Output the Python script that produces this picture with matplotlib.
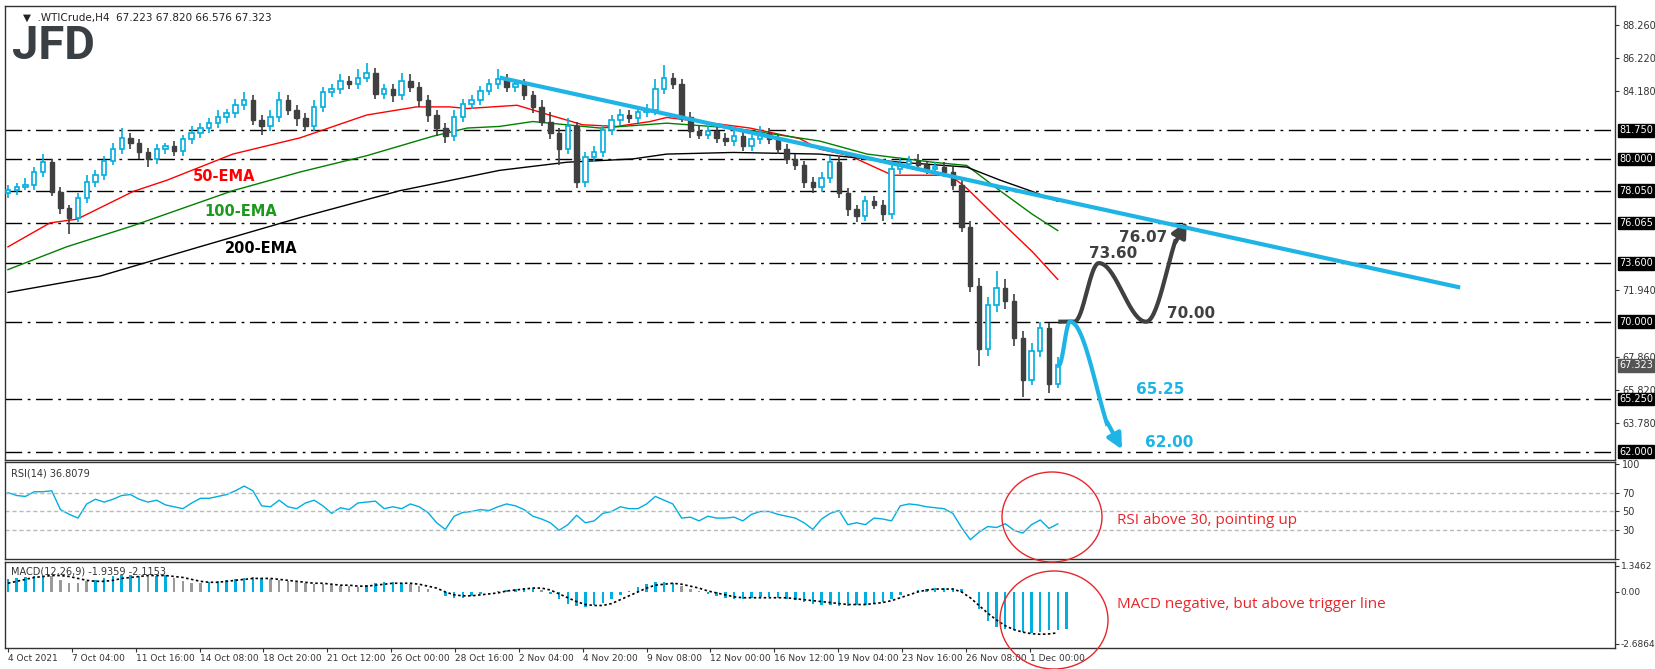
import numpy as np
import matplotlib
matplotlib.use("Agg")
import matplotlib.pyplot as plt
from matplotlib.patches import Ellipse

# ---- data (H4 WTI, one candle per ~2 bars) ----
closes = [78.1, 78.3, 78.4, 79.2, 79.8, 78.0, 77.0, 76.4, 77.6, 78.6,
          79.0, 79.9, 80.6, 81.3, 81.0, 80.4, 80.0, 80.6, 80.8, 80.5,
          81.2, 81.6, 81.9, 82.2, 82.6, 82.8, 83.3, 83.6, 82.4, 82.0,
          82.6, 83.6, 83.0, 82.5, 82.0, 83.2, 84.1, 84.3, 84.8, 84.6,
          85.0, 85.3, 84.0, 84.3, 83.9, 84.8, 84.4, 83.6, 82.7, 81.9,
          81.4, 82.6, 83.4, 83.6, 84.2, 84.6, 84.9, 84.4, 84.6, 83.9,
          83.2, 82.3, 81.6, 80.6, 82.0, 78.6, 80.1, 80.4, 81.8, 82.4,
          82.7, 82.5, 82.9, 83.0, 84.3, 85.0, 84.6, 82.6, 81.7, 81.5,
          81.7, 81.3, 81.1, 81.4, 80.8, 81.2, 81.6, 81.2, 80.6, 80.0,
          79.6, 78.6, 78.3, 78.8, 79.8, 77.9, 76.9, 76.5, 77.4, 77.2,
          76.6, 79.4, 79.7, 79.9, 79.6, 79.4, 79.5, 79.2, 78.4, 75.8,
          72.2, 68.3, 71.0, 72.1, 71.3, 69.0, 66.4, 68.2, 69.6, 66.2,
          67.323]
first_open = 77.9
up_wick = [0.3, 0.2, 0.4, 0.3, 0.5, 0.2, 0.3, 0.2, 0.3, 0.4,
           0.3, 0.3, 0.4, 0.6, 0.3, 0.2, 0.3, 0.3, 0.2, 0.3,
           0.3, 0.4, 0.3, 0.3, 0.4, 0.3, 0.4, 0.5, 0.3, 0.3,
           0.4, 0.5, 0.3, 0.3, 0.3, 0.4, 0.3, 0.3, 0.4, 0.3,
           0.5, 0.6, 0.3, 0.3, 0.3, 0.5, 0.4, 0.3, 0.3, 0.3,
           0.3, 0.4, 0.3, 0.3, 0.3, 0.3, 0.6, 0.3, 0.3, 0.3,
           0.3, 0.4, 0.6, 0.3, 0.5, 0.3, 0.3, 0.4, 0.3, 0.3,
           0.4, 0.3, 0.3, 0.4, 0.6, 0.8, 0.3, 0.3, 0.3, 0.3,
           0.3, 0.3, 0.3, 0.3, 0.3, 0.3, 0.4, 0.3, 0.3, 0.3,
           0.3, 0.3, 0.3, 0.4, 0.4, 0.3, 0.3, 0.3, 0.3, 0.3,
           0.3, 0.4, 0.4, 0.3, 0.4, 0.3, 0.3, 0.3, 0.3, 0.3,
           0.4, 0.5, 0.5, 1.0, 0.5, 0.4, 0.4, 0.5, 0.4, 0.3,
           0.5]
dn_wick = [0.3, 0.3, 0.2, 0.3, 0.3, 0.3, 0.4, 1.0, 0.3, 0.3,
           0.3, 0.3, 0.3, 0.3, 0.4, 0.4, 0.5, 0.3, 0.3, 0.3,
           0.3, 0.3, 0.3, 0.3, 0.3, 0.4, 0.3, 0.3, 0.3, 0.5,
           0.3, 0.3, 0.3, 0.5, 0.3, 0.3, 0.3, 0.3, 0.3, 0.3,
           0.3, 0.3, 0.3, 0.3, 0.4, 0.3, 0.3, 0.4, 0.4, 0.5,
           0.4, 0.3, 0.3, 0.3, 0.3, 0.3, 0.3, 0.3, 0.3, 0.3,
           0.4, 0.3, 0.4, 1.0, 0.3, 0.4, 0.3, 0.3, 0.3, 0.3,
           0.3, 0.3, 0.3, 0.3, 0.3, 0.3, 0.3, 0.3, 0.4, 0.3,
           0.3, 0.3, 0.3, 0.3, 0.3, 0.3, 0.3, 0.3, 0.3, 0.3,
           0.3, 0.4, 0.4, 0.3, 0.3, 0.3, 0.4, 0.4, 0.3, 0.3,
           0.4, 0.3, 0.3, 0.3, 0.3, 0.3, 0.3, 0.3, 0.3, 0.3,
           0.4, 1.0, 0.4, 0.4, 0.5, 0.5, 1.0, 0.3, 0.4, 0.6,
           0.3]

ema50_x = [0, 4.8, 7.9, 14.3, 18.2, 25.7, 33.4, 41.0, 46.7, 50.5, 52.5, 58.2, 61.9,
           65.7, 69.6, 73.4, 75.3, 79.1, 84.8, 90.5, 92.8, 96.2, 101.1, 107.7,
           109.6, 113.4, 117.1, 120]
ema50_y = [74.6, 76.07, 76.3, 78.0, 78.7, 80.3, 81.3, 82.7, 83.2, 83.2, 83.1, 83.3, 82.7,
           82.1, 82.0, 82.3, 82.55, 82.3, 81.9, 81.25, 80.6, 80.2, 79.0, 79.0,
           78.2, 76.2, 74.3, 72.6]
ema100_x = [0, 6.7, 14.3, 25.7, 33.4, 41.0, 44.8, 48.6, 52.5, 56.2, 60, 67.7, 75.3,
            82.9, 92.8, 98.2, 105.7, 109.6, 113.4, 117.1, 120]
ema100_y = [73.2, 74.6, 75.9, 78.05, 79.2, 80.2, 80.8, 81.4, 81.9, 82.0, 82.3, 81.9, 82.2,
            81.9, 81.1, 80.3, 79.8, 79.6, 78.05, 76.6, 75.6]
ema200_x = [0, 10.5, 21.9, 33.4, 44.8, 56.2, 63.9, 71.4, 75.3, 82.9, 92.8, 101.9,
            109.6, 113.4, 117.1, 120]
ema200_y = [71.8, 72.8, 74.6, 76.4, 78.05, 79.3, 79.8, 80.0, 80.3, 80.4, 80.3, 79.8,
            79.5, 78.7, 78.0, 77.4]

trend_x = [56.2, 166.0]
trend_y = [85.0, 72.1]

levels = [81.75, 80.0, 78.05, 76.065, 73.6, 70.0, 65.25, 62.0]
level_labels = ["81.750", "80.000", "78.050", "76.065", "73.600", "70.000", "65.250", "62.000"]
last_price = 67.323
price_ticks = [88.26, 86.22, 84.18, 71.94, 67.86, 65.82, 63.78]

bull_x = [120.3, 121.9, 124.7, 130.1, 134.9]
bull_y = [70.0, 70.0, 73.6, 70.0, 76.3]
bear_x = [120.1, 121.4, 127.5]
bear_y = [67.3, 70.0, 62.0]

rsi = [70, 67, 66, 71, 71, 72, 52, 47, 43, 58, 63, 60, 63, 67, 68, 63, 60, 62, 57, 55,
       53, 59, 64, 64, 66, 68, 72, 77, 72, 56, 55, 62, 55, 53, 59, 62, 56, 48, 54, 52,
       59, 60, 61, 53, 55, 53, 58, 55, 49, 38, 31, 45, 49, 50, 52, 51, 55, 58, 56, 52,
       45, 42, 38, 30, 36, 46, 38, 40, 48, 50, 55, 53, 53, 58, 66, 62, 58, 43, 44, 40,
       45, 43, 43, 44, 40, 47, 50, 50, 47, 45, 43, 38, 31, 42, 48, 51, 36, 38, 36, 43,
       42, 40, 56, 58, 57, 55, 54, 53, 48, 33, 20, 28, 34, 33, 37, 30, 27, 36, 41, 32,
       36.8]

macd = [0.65, 0.7, 0.75, 0.8, 0.85, 0.8, 0.6, 0.45, 0.45, 0.55, 0.6, 0.7, 0.8, 0.9, 0.9,
        0.85, 0.8, 0.85, 0.9, 0.7, 0.55, 0.45, 0.45, 0.5, 0.55, 0.6, 0.65, 0.7, 0.75,
        0.7, 0.65, 0.6, 0.55, 0.5, 0.45, 0.4, 0.4, 0.35, 0.3, 0.3, 0.25, 0.35, 0.45,
        0.5, 0.5, 0.45, 0.4, 0.3, 0.15, 0.0, -0.2, -0.3, -0.3, -0.2, -0.1, 0.0, 0.05,
        0.1, 0.15, 0.2, 0.2, 0.1, -0.1, -0.35, -0.6, -0.75, -0.8, -0.7, -0.55, -0.35,
        -0.15, 0.05, 0.25, 0.4, 0.5, 0.5, 0.45, 0.3, 0.15, 0.05, -0.1, -0.2, -0.3,
        -0.35, -0.35, -0.3, -0.25, -0.25, -0.3, -0.35, -0.4, -0.5, -0.6, -0.65, -0.7,
        -0.75, -0.75, -0.7, -0.65, -0.6, -0.5, -0.35, -0.15, 0.0, 0.1, 0.15, 0.2, 0.2,
        0.2, 0.15, 0.0, -0.9, -1.5, -1.8, -1.9, -1.95, -2.05, -2.1, -2.05, -1.95,
        -1.95, -1.9359]
signal = [0.45, 0.55, 0.65, 0.75, 0.8, 0.85, 0.85, 0.8, 0.7, 0.6, 0.55, 0.55, 0.6, 0.7,
          0.75, 0.8, 0.85, 0.85, 0.85, 0.8, 0.75, 0.65, 0.55, 0.5, 0.5, 0.55, 0.6, 0.65,
          0.7, 0.7, 0.7, 0.65, 0.6, 0.55, 0.5, 0.45, 0.45, 0.4, 0.35, 0.35, 0.3, 0.3,
          0.35, 0.4, 0.45, 0.45, 0.45, 0.4, 0.3, 0.2, 0.0, -0.15, -0.2, -0.2, -0.15,
          -0.1, -0.05, 0.05, 0.1, 0.15, 0.2, 0.2, 0.1, -0.1, -0.3, -0.5, -0.65, -0.7,
          -0.7, -0.6, -0.4, -0.2, 0.0, 0.2, 0.35, 0.4, 0.45, 0.4, 0.3, 0.2, 0.05, -0.05,
          -0.15, -0.25, -0.3, -0.3, -0.3, -0.3, -0.3, -0.3, -0.35, -0.4, -0.45, -0.5,
          -0.55, -0.6, -0.65, -0.65, -0.65, -0.6, -0.55, -0.45, -0.3, -0.15, 0.0, 0.1,
          0.15, 0.15, 0.15, 0.0, -0.3, -0.7, -1.1, -1.45, -1.75, -1.95, -2.08, -2.16,
          -2.19, -2.17, -2.1153]

date_labels = ["4 Oct 2021", "7 Oct 04:00", "11 Oct 16:00", "14 Oct 08:00", "18 Oct 20:00",
               "21 Oct 12:00", "26 Oct 00:00", "28 Oct 16:00", "2 Nov 04:00", "4 Nov 20:00",
               "9 Nov 08:00", "12 Nov 00:00", "16 Nov 12:00", "19 Nov 04:00", "23 Nov 16:00",
               "26 Nov 08:00", "1 Dec 00:00"]

# ---- figure ----
W, H = 1655, 669
fig = plt.figure(figsize=(W / 100, H / 100), dpi=100)
plt.rcParams['font.family'] = ['DejaVu Sans']

def box(top, bottom):
    return [5 / W, 1 - bottom / H, (1615 - 5) / W, (bottom - top) / H]

ax = fig.add_axes(box(6, 460))
ax_rsi = fig.add_axes(box(462, 559))
ax_macd = fig.add_axes(box(562, 648))

CYAN = "#00AEE0"
DARK = "#404040"
xlim = (-0.34, 183.7)
for a in (ax, ax_rsi, ax_macd):
    a.set_xlim(*xlim)
    a.yaxis.tick_right()
    a.tick_params(axis="y", labelsize=7, colors="#333333", length=3, pad=2)
    a.tick_params(axis="x", bottom=False, labelbottom=False)
    for s in a.spines.values():
        s.set_color("#333333")
        s.set_linewidth(1)

# candles
n = len(closes)
opens = [first_open] + closes[:-1]
for i in range(n):
    o, c = opens[i], closes[i]
    hi = max(o, c) + up_wick[i]
    lo = min(o, c) - dn_wick[i]
    col = CYAN if c >= o else DARK
    ax.vlines(i, lo, hi, color=col, lw=1.2, zorder=3)
    body = max(abs(c - o), 0.05)
    if c >= o:
        ax.bar(i, body, bottom=o, width=0.5, facecolor="white", edgecolor=CYAN, lw=1.2, zorder=4)
    else:
        ax.bar(i, body, bottom=c, width=0.5, facecolor=DARK, edgecolor=DARK, lw=1, zorder=4)

ax.plot(ema50_x, ema50_y, color="#ff0000", lw=1, zorder=2)
ax.plot(ema100_x, ema100_y, color="#008000", lw=1, zorder=2)
ax.plot(ema200_x, ema200_y, color="black", lw=1, zorder=2)
ax.plot(trend_x, trend_y, color="#1EB4E6", lw=3, solid_capstyle="butt", zorder=5)

for lv in levels:
    ax.axhline(lv, color="black", lw=1, ls=(0, (12, 4, 2, 4)), zorder=1)

ax.set_ylim(61.5, 89.4)
ax.set_yticks(price_ticks)
ax.set_yticklabels(["%.3f" % t for t in price_ticks])
for lv, lab in zip(levels, level_labels):
    ax.text(1.0025, lv, lab, transform=ax.get_yaxis_transform(), fontsize=7, color="white",
            va="center", ha="left", zorder=10,
            bbox=dict(boxstyle="square,pad=0.15", fc="black", ec="black"))
ax.text(1.0025, last_price, "%.3f" % last_price, transform=ax.get_yaxis_transform(), fontsize=7,
        color="white", va="center", ha="left", zorder=10,
        bbox=dict(boxstyle="square,pad=0.15", fc="#555555", ec="#555555"))

ax.text(21.1, 78.9, "50-EMA", color="#ff0000", fontsize=10.5, fontweight="bold", va="center")
ax.text(22.4, 76.8, "100-EMA", color="#1a9a1a", fontsize=10.5, fontweight="bold", va="center")
ax.text(24.8, 74.5, "200-EMA", color="black", fontsize=10.5, fontweight="bold", va="center")

# scenario paths
def wave(px, py, straight_first=False):
    out_x, out_y = [], []
    for k in range(len(px) - 1):
        t = np.linspace(0, 1, 40)
        if straight_first and k == 0:
            s = t
        else:
            s = (1 - np.cos(np.pi * t)) / 2
        out_x += list(px[k] + (px[k + 1] - px[k]) * t)
        out_y += list(py[k] + (py[k + 1] - py[k]) * s)
    return np.array(out_x), np.array(out_y)

bx, by = wave(bull_x, bull_y, straight_first=True)
ax.plot(bx[:-12], by[:-12], color=DARK, lw=3, zorder=6)
ax.annotate("", xy=(bx[-1], by[-1]), xytext=(bx[-14], by[-14]),
            arrowprops=dict(arrowstyle="-|>,head_width=0.45,head_length=0.9", color=DARK, lw=3))
rx, ry = wave(bear_x, bear_y)
ax.plot(rx[:-12], ry[:-12], color="#1EB4E6", lw=3, zorder=6)
ax.annotate("", xy=(rx[-1], ry[-1]), xytext=(rx[-14], ry[-14]),
            arrowprops=dict(arrowstyle="-|>,head_width=0.45,head_length=0.9", color="#1EB4E6", lw=3))

ax.text(126.3, 74.2, "73.60", color=DARK, fontsize=11, fontweight="bold", ha="center", va="center")
ax.text(132.5, 70.5, "70.00", color=DARK, fontsize=11, fontweight="bold", ha="left", va="center")
ax.text(127.0, 75.2, "76.07", color=DARK, fontsize=11, fontweight="bold", ha="left", va="center")
ax.text(129.0, 65.85, "65.25", color="#1EB4E6", fontsize=11, fontweight="bold", ha="left", va="center")
ax.text(130.0, 62.6, "62.00", color="#1EB4E6", fontsize=11, fontweight="bold", ha="left", va="center")

ax.text(0.011, 0.985, "\u25BC  .WTICrude,H4  67.223 67.820 66.576 67.323", transform=ax.transAxes,
        fontsize=7.5, color="#222222", va="top", ha="left")
fig.text(12 / W, 1 - 59 / H, "JFD", fontsize=34, fontweight="bold", color="#3a3f44",
         family="Roboto", ha="left", va="baseline")

# RSI
ax_rsi.plot(np.arange(len(rsi)), rsi, color=CYAN, lw=1)
for lv in (70, 50, 30):
    ax_rsi.axhline(lv, color="#bbbbbb", lw=1, ls=(0, (3, 2)))
ax_rsi.set_ylim(-0.5, 102.6)
ax_rsi.set_yticks([100, 70, 50, 30, 0])
ax_rsi.set_yticklabels(["100", "70", "50", "30", ""])
ax_rsi.text(0.004, 0.93, "RSI(14) 36.8079", transform=ax_rsi.transAxes, fontsize=7,
            color="#333333", va="top")

# MACD
mx = np.arange(len(macd))
cols = [CYAN if m >= s or m < 0 else "#9a9a9a" for m, s in zip(macd, signal)]
ax_macd.bar(mx, macd, width=0.28, color=cols)
ax_macd.plot(np.arange(len(signal)), signal, color="black", lw=1.2, ls=(0, (1.5, 1.5)))
ax_macd.set_ylim(-2.9, 1.55)
ax_macd.set_yticks([1.3462, 0.0, -2.6864])
ax_macd.set_yticklabels(["1.3462", "0.00", "-2.6864"])
ax_macd.tick_params(axis="y", labelsize=6.5, pad=1)
ax_macd.text(0.004, 0.95, "MACD(12,26,9) -1.9359 -2.1153", transform=ax_macd.transAxes,
             fontsize=7, color="#333333", va="top")
ax_macd.set_xticks([7.3 * k for k in range(len(date_labels))])
ax_macd.set_xticklabels(date_labels, ha="left")
ax_macd.tick_params(axis="x", bottom=True, labelbottom=True, labelsize=6.5, length=3,
                    pad=1, colors="#333333")

# annotations
RED = "#e8262a"
fig.patches.append(Ellipse((1052 / W, 1 - 517 / H), 100 / W, 90 / H, transform=fig.transFigure,
                           fill=False, ec=RED, lw=1))
fig.patches.append(Ellipse((1054 / W, 1 - 620 / H), 108 / W, 98 / H, transform=fig.transFigure,
                           fill=False, ec=RED, lw=1))
fig.text(1117 / W, 1 - 521 / H, "RSI above 30, pointing up", color=RED, fontsize=11,
         family="Open Sans", va="center")
fig.text(1117 / W, 1 - 605 / H, "MACD negative, but above trigger line", color=RED, fontsize=11,
         family="Open Sans", va="center")

fig.savefig("out.png", dpi=100, facecolor="white")
